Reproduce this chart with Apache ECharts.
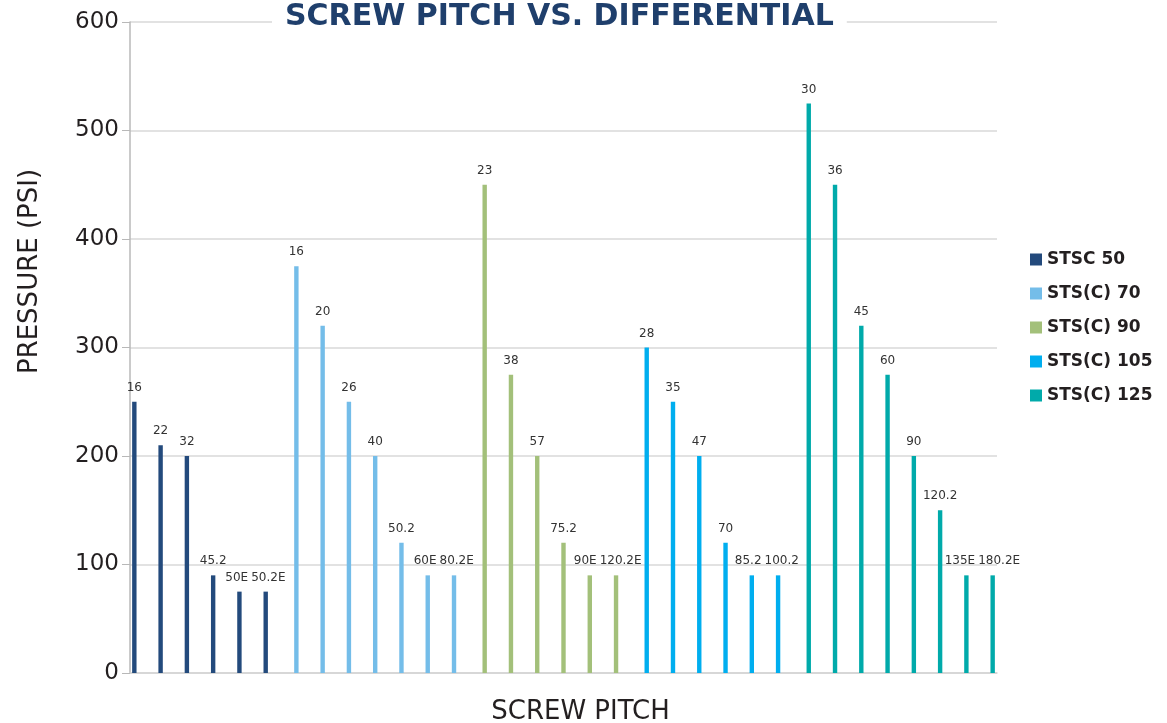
<!DOCTYPE html>
<html>
<head>
<meta charset="utf-8">
<script src="https://cdn.jsdelivr.net/npm/echarts@6/dist/echarts.min.js"></script>
<style>
  html, body { margin: 0; padding: 0; background: #fff; }
  #chart { width: 1167px; height: 723px; }
</style>
</head>
<body>
<div id="chart"></div>
<script>
// series names and colours
const seriesNames = ["STSC 50", "STS(C) 70", "STS(C) 90", "STS(C) 105", "STS(C) 125"];
const seriesColors = ["#234a7c", "#74bde9", "#a3c07a", "#00aeef", "#00aaaa"];

// screw pitch labels per series
const pitches50 = ["16", "22", "32", "45.2", "50E", "50.2E"];
const pitches70 = ["16", "20", "26", "40", "50.2", "60E", "80.2E"];
const pitches90 = ["23", "38", "57", "75.2", "90E", "120.2E"];
const pitches105 = ["28", "35", "47", "70", "85.2", "100.2"];
const pitches125 = ["30", "36", "45", "60", "90", "120.2", "135E", "180.2E"];

// pressure (psi) per series
const pressure50 = [250, 210, 200, 90, 75, 75];
const pressure70 = [375, 320, 250, 200, 120, 90, 90];
const pressure90 = [450, 275, 200, 120, 90, 90];
const pressure105 = [300, 250, 200, 120, 90, 90];
const pressure125 = [525, 450, 320, 275, 200, 150, 90, 90];

const yTicks = [0, 100, 200, 300, 400, 500, 600];

const groups = [
  [pitches50, pressure50],
  [pitches70, pressure70],
  [pitches90, pressure90],
  [pitches105, pressure105],
  [pitches125, pressure125],
];

const labelFont = "12px 'DejaVu Sans'";

// one category per bar, each series fills only its own slots
const categories = [];
const pitchLabels = [];
groups.forEach((g, si) => {
  g[0].forEach((p) => {
    categories.push(seriesNames[si] + " " + p);
    pitchLabels.push(p);
  });
});

function buildSeries(labelShift) {
  let offset = 0;
  return groups.map((g, si) => {
    const data = categories.map(() => null);
    g[1].forEach((v, i) => {
      const idx = offset + i;
      data[idx] = labelShift && labelShift[idx]
        ? { value: v, label: { offset: [labelShift[idx], 0] } }
        : v;
    });
    offset += g[1].length;
    return {
      name: seriesNames[si],
      type: "bar",
      data: data,
      barWidth: 4.4,
      barGap: "0%",
      itemStyle: { color: seriesColors[si] },
      label: {
        show: true,
        position: "top",
        distance: 8,
        fontFamily: "DejaVu Sans",
        fontSize: 12,
        color: "#333",
        formatter: function (params) {
          return pitchLabels[params.dataIndex];
        },
      },
    };
  });
}

const chart = echarts.init(document.getElementById("chart"));

const option = {
  backgroundColor: "#ffffff",
  animation: false,
  title: {
    text: "SCREW PITCH VS. DIFFERENTIAL",
    left: 272,
    top: 0,
    padding: [2, 13, 2, 13],
    backgroundColor: "#ffffff",
    textStyle: {
      fontFamily: "DejaVu Sans",
      fontWeight: "bold",
      fontSize: 30,
      color: "#1f3f6c",
    },
  },
  legend: {
    orient: "vertical",
    left: 1025,
    top: 246,
    icon: "rect",
    itemWidth: 12,
    itemHeight: 12,
    itemGap: 17,
    textStyle: {
      fontFamily: "DejaVu Sans",
      fontWeight: "bold",
      fontSize: 17,
      color: "#231f20",
    },
    data: seriesNames,
  },
  grid: {
    left: 130,
    right: 170,
    top: 22,
    bottom: 50,
    containLabel: false,
    outerBoundsMode: "none",
  },
  xAxis: {
    type: "category",
    data: categories,
    name: "SCREW PITCH",
    nameLocation: "middle",
    nameGap: 26,
    nameTextStyle: {
      fontFamily: "DejaVu Sans",
      fontSize: 26,
      color: "#231f20",
      padding: [0, 0, 0, 34],
    },
    axisLine: { lineStyle: { color: "#d4d4d4", width: 1.5 } },
    axisTick: { show: false },
    axisLabel: { show: false },
  },
  yAxis: {
    type: "value",
    min: yTicks[0],
    max: yTicks[yTicks.length - 1],
    interval: 100,
    name: "PRESSURE (PSI)",
    nameLocation: "middle",
    nameGap: 87,
    nameTextStyle: {
      fontFamily: "DejaVu Sans",
      fontSize: 26,
      color: "#231f20",
      padding: [0, 0, 0, 152],
    },
    axisLine: { show: true, lineStyle: { color: "#b8b8b8", width: 1.5 } },
    axisTick: { show: true, length: 8, lineStyle: { color: "#b8b8b8" } },
    axisLabel: {
      margin: 11,
      fontFamily: "DejaVu Sans",
      fontSize: 23,
      color: "#231f20",
    },
    splitLine: { lineStyle: { color: "#d9d9d9", width: 1.5 } },
  },
  series: buildSeries(null),
};

option && chart.setOption(option);

// push apart neighbouring labels of the same series that would collide
const ctx = document.createElement("canvas").getContext("2d");
ctx.font = labelFont;
const shift = categories.map(() => 0);
let start = 0;
groups.forEach((g) => {
  for (let i = 0; i < g[1].length - 1; i++) {
    const a = start + i;
    const b = a + 1;
    const pa = chart.convertToPixel({ gridIndex: 0 }, [a, g[1][i]]);
    const pb = chart.convertToPixel({ gridIndex: 0 }, [b, g[1][i + 1]]);
    if (Math.abs(pa[1] - pb[1]) > 14) continue;
    const wa = ctx.measureText(pitchLabels[a]).width;
    const wb = ctx.measureText(pitchLabels[b]).width;
    const overlap = wa / 2 + wb / 2 + 3 - (pb[0] - pa[0]) + shift[a];
    if (overlap > 0) {
      shift[a] -= overlap / 2;
      shift[b] += overlap / 2;
    }
  }
  start += g[1].length;
});
chart.setOption({ series: buildSeries(shift) });
</script>
</body>
</html>
